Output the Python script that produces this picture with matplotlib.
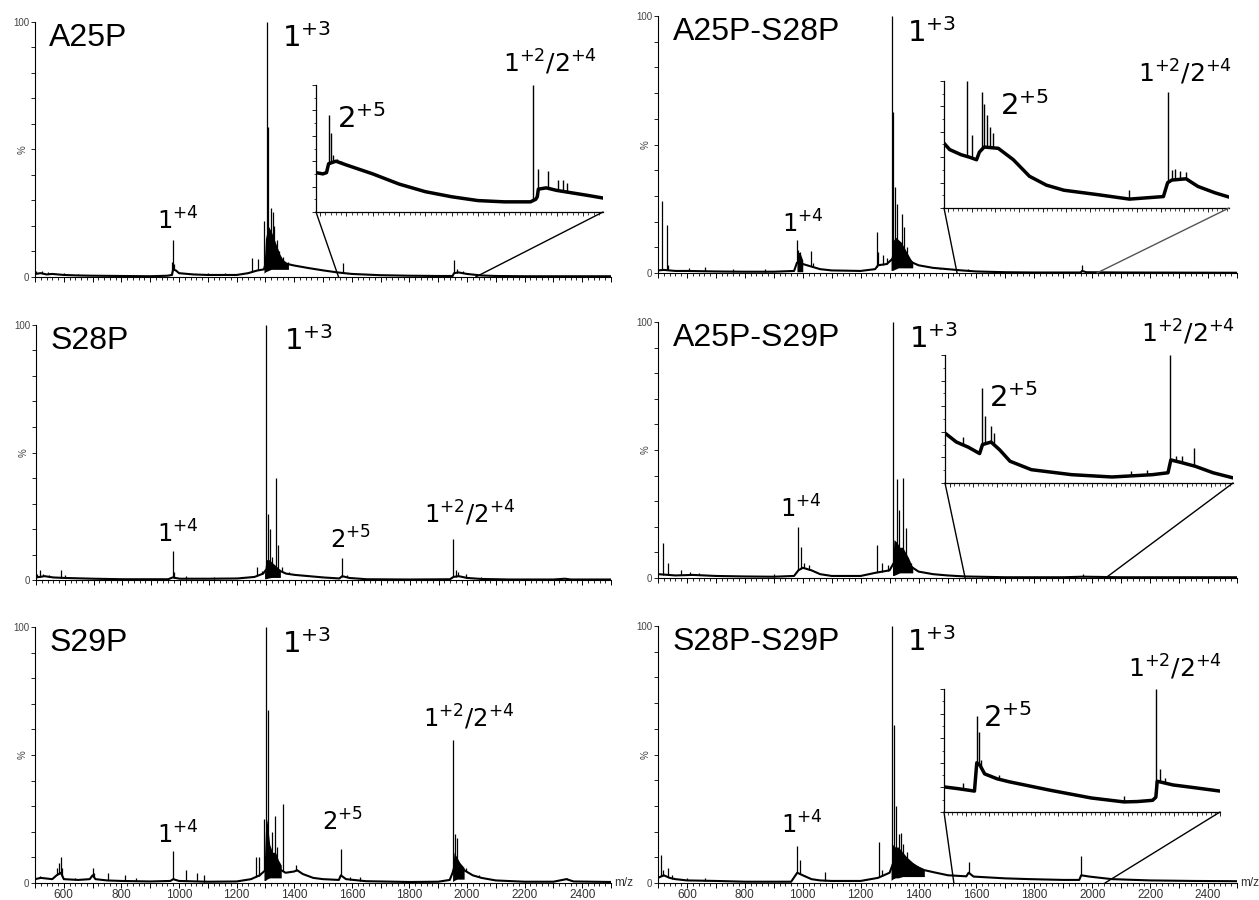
import numpy as np
import matplotlib
matplotlib.use("Agg")
import matplotlib.pyplot as plt
from matplotlib.patches import ConnectionPatch
from matplotlib.ticker import MultipleLocator, FixedLocator, FuncFormatter

# ---------------------------------------------------------------- data
# m/z axis tick labels
XTICK_LABELS = [600, 800, 1000, 1200, 1400, 1600, 1800, 2000, 2200, 2400]

# ---- A25P
a25p_base_mz = [500, 520, 540, 560, 600, 650, 700, 800, 900, 960, 975, 980, 990, 1000, 1050, 1100, 1200, 1240, 1270,
                1295, 1300, 1350, 1380, 1400, 1450, 1500, 1550, 1600, 1700, 1800, 1900, 1950, 1955, 1970, 2000, 2050,
                2100, 2200, 2300, 2400, 2500]
a25p_base_y = [1.2, 1.5, 1.0, 1.2, 0.8, 0.6, 0.5, 0.4, 0.3, 0.5, 0.8, 3.0, 2.5, 1.5, 1.0, 0.8, 0.8, 1.5, 2.5,
               3.0, 5.0, 6.0, 5.0, 4.5, 3.5, 2.6, 1.8, 1.2, 0.7, 0.5, 0.4, 0.4, 1.5, 1.8, 1.2, 0.6,
               0.4, 0.3, 0.3, 0.3, 0.3]
a25p_peak_mz = [505, 525, 545, 600, 650, 975, 979, 984, 1100, 1160, 1253, 1275, 1296, 1305, 1310, 1318, 1325, 1330,
                1340, 1346, 1360, 1380, 1570, 1955, 1965, 1985]
a25p_peak_y = [2.5, 2.2, 2.0, 1.5, 1.2, 6, 14.5, 5, 1.5, 1.5, 7.5, 7, 22, 100, 59, 27, 25.5, 20,
               14.5, 10, 8, 6, 5.5, 6.7, 3, 2.5]
a25p_fill_mz = [1295, 1300, 1310, 1320, 1330, 1340, 1350, 1360, 1370, 1380]
a25p_fill_lo = [1.5, 2, 2.5, 3, 3, 3, 3, 3, 3, 3]
a25p_fill_hi = [3, 15, 20, 18, 15, 12, 9, 7, 6, 5]
a25p_in_base_mz = [1542, 1555, 1562, 1566, 1580, 1600, 1650, 1700, 1750, 1800, 1850, 1900, 1950, 1960, 1963, 1965,
                   1980, 2000, 2030, 2060, 2088]
a25p_in_base_y = [31, 30, 31, 38, 40, 37, 30, 22, 16, 12, 9, 8, 8, 10, 12, 18, 19, 17, 15, 13, 11]
a25p_in_peak_mz = [1566, 1570, 1575, 1582, 1590, 1955, 1965, 1984, 2003, 2012, 2020]
a25p_in_peak_y = [76, 62, 45, 42, 40, 100, 34, 32, 25, 25, 23]

# ---- S28P
s28p_base_mz = [500, 530, 560, 600, 700, 800, 960, 975, 985, 1000, 1100, 1200, 1260, 1290, 1300, 1340, 1370, 1400,
                1450, 1500, 1555, 1565, 1590, 1650, 1800, 1940, 1952, 1970, 2000, 2050, 2150, 2300, 2340, 2360, 2500]
s28p_base_y = [1.0, 1.5, 1.0, 0.8, 0.5, 0.3, 0.3, 1.0, 0.8, 0.5, 0.5, 0.6, 1.2, 2.5, 4.0, 4.0, 2.5, 2.0,
               1.5, 1.0, 0.6, 1.5, 0.8, 0.3, 0.2, 0.3, 1.2, 1.5, 0.8, 0.4, 0.2, 0.2, 0.5, 0.2, 0.2]
s28p_peak_mz = [505, 513, 525, 545, 586, 600, 975, 980, 1020, 1120, 1267, 1286, 1301, 1307, 1314, 1321, 1336, 1343,
                1355, 1380, 1563, 1582, 1952, 1960, 1969, 1997, 2047]
s28p_peak_y = [2.5, 4, 2.5, 2, 4, 1.8, 11.5, 3, 1.5, 1, 5, 3.5, 100, 26, 20, 9, 40, 13.7,
               5, 3, 8.5, 2, 16, 4, 3, 2.5, 1]
s28p_fill_mz = [1295, 1300, 1310, 1320, 1330, 1340, 1350]
s28p_fill_lo = [0.5, 0.5, 0.8, 1.0, 1.0, 1.0, 1.0]
s28p_fill_hi = [3, 8, 8, 7, 6, 5, 4]

# ---- S29P
s29p_base_mz = [500, 520, 560, 575, 590, 600, 650, 690, 700, 710, 750, 800, 900, 970, 980, 1000, 1100, 1200, 1250,
                1280, 1300, 1320, 1340, 1370, 1400, 1410, 1430, 1466, 1500, 1555, 1562, 1580, 1650, 1800, 1900, 1940,
                1950, 1960, 1990, 2020, 2050, 2100, 2200, 2300, 2345, 2370, 2500]
s29p_base_y = [1.5, 2.0, 1.5, 3.0, 4.0, 1.5, 1.2, 1.5, 3.0, 1.5, 1.0, 0.8, 0.6, 0.8, 1.5, 0.8, 0.5, 0.6, 1.5,
               3.0, 5.0, 8.0, 6.0, 4.0, 4.5, 5.0, 3.5, 2.0, 1.5, 1.2, 3.0, 1.5, 0.7, 0.4, 0.5, 1.2,
               4.0, 8.0, 5.0, 3.0, 2.0, 1.0, 0.5, 0.5, 1.5, 0.6, 0.4]
s29p_peak_mz = [517, 530, 575, 583, 590, 595, 640, 700, 705, 753, 813, 850, 979, 1024, 1062, 1087, 1266, 1278, 1296,
                1302, 1310, 1322, 1333, 1340, 1362, 1406, 1561, 1594, 1628, 1950, 1958, 1966, 1996, 2042, 2346]
s29p_peak_y = [2.7, 2, 6, 8, 10, 6, 2, 6, 4, 4, 3, 2, 12.5, 5, 4, 3, 10, 10, 25,
               100, 67.5, 20, 26, 14, 31, 7, 13.4, 2.5, 2.5, 56, 19, 17.7, 6, 3, 2]
s29p_fill_mz = [1295, 1300, 1305, 1315, 1325, 1335, 1345, 1355]
s29p_fill_lo = [1, 1, 1.5, 2, 2, 2, 2, 2]
s29p_fill_hi = [4, 20, 25, 15, 12, 12, 9, 7]
s29p_fill2_mz = [1950, 1955, 1965, 1975, 1990]
s29p_fill2_lo = [0.5, 1, 1.5, 1.5, 1.5]
s29p_fill2_hi = [5, 12, 10, 8, 6]

# ---- A25P-S28P
a25s28_base_mz = [500, 520, 560, 600, 700, 800, 900, 970, 980, 1000, 1030, 1060, 1100, 1200, 1250, 1260, 1290, 1305,
                  1330, 1360, 1380, 1400, 1450, 1500, 1550, 1600, 1700, 1800, 1960, 1965, 1980, 2100, 2500]
a25s28_base_y = [1.0, 1.2, 0.8, 0.8, 0.6, 0.5, 0.5, 0.8, 4.0, 3.5, 2.5, 1.5, 1.0, 0.8, 1.5, 3.0, 3.5, 5.0,
                 8.0, 6.0, 4.0, 3.0, 2.0, 1.5, 1.0, 0.6, 0.3, 0.2, 0.2, 0.8, 0.3, 0.2, 0.1]
a25s28_peak_mz = [514, 531, 535, 607, 662, 760, 870, 980, 985, 990, 1028, 1035, 1256, 1260, 1277, 1291, 1308, 1312,
                  1318, 1325, 1342, 1350, 1360, 1474, 1571, 1965]
a25s28_peak_y = [28, 18.7, 3, 2, 2.5, 1.5, 1.5, 12.8, 9, 8, 8.5, 4, 16, 8, 7, 6, 100, 62.6,
                 33.5, 27, 23, 18, 10, 1.5, 1.5, 3]
a25s28_fill_mz = [1305, 1310, 1320, 1330, 1340, 1350, 1360, 1370, 1380]
a25s28_fill_lo = [1, 1, 1.5, 2, 2, 2, 2, 2, 2]
a25s28_fill_hi = [5, 12, 14, 13, 12, 10, 8, 6, 4]
a25s28_fill2_mz = [980, 990, 1000]
a25s28_fill2_lo = [0.5, 0.5, 0.5]
a25s28_fill2_hi = [8, 8, 5]
a25s28_in_base_mz = [1491, 1503, 1527, 1545, 1560, 1566, 1576, 1606, 1638, 1672, 1708, 1745, 1817, 1884, 1956, 1965,
                     1974, 2004, 2029, 2065, 2095]
a25s28_in_base_y = [51, 46, 42, 40, 38, 44, 48, 47, 38, 25, 18, 14, 10.5, 7, 9, 20, 22, 23, 17, 12, 8.6]
a25s28_in_peak_mz = [1539, 1550, 1571, 1576, 1582, 1588, 1594, 1884, 1965, 1974, 1980, 1992, 2004]
a25s28_in_peak_y = [100, 57.6, 91, 82, 73, 64, 59, 14, 91, 30, 31, 29, 28]

# ---- A25P-S29P
a25s29_base_mz = [500, 560, 620, 700, 800, 900, 970, 985, 1000, 1030, 1060, 1100, 1200, 1250, 1300, 1315, 1350, 1380,
                  1400, 1450, 1500, 1560, 1700, 1900, 1969, 2100, 2500]
a25s29_base_y = [1.5, 1.0, 1.2, 0.8, 0.6, 0.5, 0.8, 3.0, 4.0, 3.0, 1.5, 0.8, 0.8, 2.0, 3.0, 6.0, 7.0, 4.0,
                 2.5, 1.5, 1.0, 0.6, 0.3, 0.3, 0.5, 0.3, 0.3]
a25s29_peak_mz = [518, 535, 581, 610, 640, 900, 985, 995, 1006, 1023, 1258, 1275, 1296, 1313, 1325, 1332, 1346, 1357,
                  1374, 1969]
a25s29_peak_y = [13.6, 5.8, 3, 2.5, 2, 1.5, 19.9, 12.3, 6, 5, 13, 6, 5, 100, 38.6, 26.6, 39, 19.5,
                 6, 1.5]
a25s29_fill_mz = [1310, 1315, 1325, 1335, 1345, 1355, 1365, 1380]
a25s29_fill_lo = [1, 1, 1.5, 2, 2, 2, 2, 2]
a25s29_fill_hi = [4, 15, 14, 12, 12, 10, 8, 4]
a25s29_in_base_mz = [1490, 1514, 1539, 1563, 1569, 1587, 1605, 1627, 1672, 1757, 1842, 1927, 1960, 1966, 1988, 2018,
                     2055, 2097]
a25s29_in_base_y = [39, 32, 28, 23, 30, 32, 26, 17, 10.4, 6.5, 4.7, 6.5, 8, 18, 16, 13, 8, 4]
a25s29_in_peak_mz = [1527, 1568, 1574, 1587, 1593, 1881, 1915, 1965, 1976, 1989, 2015, 2067]
a25s29_in_peak_y = [36, 74, 52, 44.7, 39, 9, 10, 100, 21, 21, 27, 8]

# ---- S28P-S29P
s28s29_base_mz = [500, 520, 540, 560, 600, 700, 800, 960, 981, 1000, 1030, 1060, 1100, 1200, 1260, 1300, 1320, 1350,
                  1380, 1420, 1460, 1502, 1565, 1573, 1590, 1700, 1785, 1900, 1955, 1962, 1990, 2068, 2200, 2350, 2500]
s28s29_base_y = [2.0, 3.0, 2.0, 1.5, 1.0, 0.8, 0.5, 0.5, 4.0, 3.0, 1.5, 1.0, 0.8, 0.8, 2.0, 4.0, 10.0, 9.0,
                 7.0, 5.0, 4.0, 3.0, 2.6, 4.0, 2.5, 1.8, 1.5, 1.2, 1.2, 3.0, 2.5, 1.5, 1.0, 0.8, 0.7]
s28s29_peak_mz = [511, 518, 536, 550, 600, 663, 981, 989, 1006, 1077, 1264, 1275, 1303, 1309, 1315, 1322, 1332, 1340,
                  1346, 1360, 1573, 1962]
s28s29_peak_y = [11, 5, 6, 3, 2, 2, 14.4, 8.8, 3, 4.3, 16, 5, 5, 100, 61.4, 30, 19, 19.5,
                 15, 12, 8, 10.4]
s28s29_fill_mz = [1305, 1310, 1320, 1330, 1345, 1360, 1380, 1400, 1420]
s28s29_fill_lo = [1, 1.5, 2, 2, 2.5, 2.5, 2.5, 2.5, 2.5]
s28s29_fill_hi = [5, 15, 14, 14, 12, 10, 8, 6.5, 5]
s28s29_in_base_mz = [1502, 1532, 1568, 1573, 1580, 1590, 1617, 1644, 1732, 1821, 1892, 1921, 1954, 1961, 1964, 1998,
                     2040, 2100]
s28s29_in_base_y = [20.4, 19, 17, 40, 38, 31, 27, 24.5, 17.7, 11.4, 8.2, 8.5, 9.5, 12, 25, 22, 20, 17]
s28s29_in_peak_mz = [1544, 1573, 1577, 1582, 1622, 1892, 1962, 1970, 1980]
s28s29_in_peak_y = [23.7, 78, 65, 42, 30, 12.8, 100, 35, 28]

# inset m/z windows and zoom connector targets on the main axis
a25p_in_range = [1542, 2088]
a25s28_in_range = [1491, 2095]
a25s29_in_range = [1490, 2097]
s28s29_in_range = [1502, 2100]
a25p_conn = [1554, 2030]
a25s28_conn = [1533, 2016]
a25s29_conn = [1561, 2046]
s28s29_conn = [1522, 2044]

# ---------------------------------------------------------------- layout
W, H = 1259, 900
fig = plt.figure(figsize=(W / 100, H / 100), dpi=100)
fig.patch.set_facecolor("white")

SANS = ["Liberation Sans", "DejaVu Sans"]


def px_axes(l, t, r, b):
    return fig.add_axes([l / W, 1 - b / H, (r - l) / W, (b - t) / H])


def draw_trace(ax, bmz, by, pmz, py, fills=(), lw=1.5, plw=0.9):
    ax.plot(bmz, by, color="k", lw=lw, solid_joinstyle="round", solid_capstyle="round")
    bottoms = np.interp(pmz, bmz, by)
    ax.vlines(pmz, bottoms, py, color="k", lw=plw)
    for fm, flo, fhi in fills:
        ax.fill_between(fm, flo, fhi, color="k", lw=0)


def xfmt(v, pos):
    iv = int(round(v))
    return str(iv) if iv in XTICK_LABELS else ""


def style_main(ax, bottom_row):
    ax.set_xlim(500, 2500)
    ax.set_ylim(0, 100)
    for s in ["top", "right"]:
        ax.spines[s].set_visible(False)
    for s in ["left", "bottom"]:
        ax.spines[s].set_linewidth(0.8)
    ax.xaxis.set_major_locator(FixedLocator(list(range(500, 2501, 100))))
    ax.xaxis.set_minor_locator(FixedLocator(list(range(500, 2501, 20))))
    ax.yaxis.set_major_locator(FixedLocator(list(range(0, 101, 10))))
    ax.tick_params(axis="x", which="major", length=3.5, width=0.7, direction="out")
    ax.tick_params(axis="x", which="minor", length=2.0, width=0.6, direction="out")
    ax.tick_params(axis="y", which="major", length=3, width=0.6, direction="out",
                   labelsize=7, labelcolor="#444444", pad=1)
    ax.yaxis.set_major_formatter(FuncFormatter(lambda v, p: "0" if v == 0 else ("100" if v == 100 else "")))
    if bottom_row:
        ax.xaxis.set_major_formatter(FuncFormatter(xfmt))
        ax.tick_params(axis="x", labelsize=8.5, labelcolor="#333333", pad=0.5)
        for lab in ax.get_xticklabels():
            lab.set_family(SANS)
        ax.text(1.006, 0.0, "m/z", transform=ax.transAxes, fontsize=8.5, color="#333333",
                family=SANS, ha="left", va="center")
    else:
        ax.xaxis.set_major_formatter(FuncFormatter(lambda v, p: ""))
    for lab in ax.get_yticklabels():
        lab.set_family(SANS)
    ax.text(-0.021, 0.5, "%", transform=ax.transAxes, rotation=90, fontsize=7,
            color="#444444", ha="center", va="center", family=SANS)
    ax.patch.set_alpha(0)


def style_inset(ax, xr):
    ax.set_xlim(*xr)
    ax.set_ylim(0, 100)
    for s in ["top", "right"]:
        ax.spines[s].set_visible(False)
    for s in ["left", "bottom"]:
        ax.spines[s].set_linewidth(0.9)
    ax.xaxis.set_major_locator(MultipleLocator(50))
    ax.xaxis.set_minor_locator(MultipleLocator(10))
    ax.yaxis.set_major_locator(FixedLocator([0, 20, 40, 60, 80, 100]))
    ax.yaxis.set_minor_locator(MultipleLocator(10))
    ax.tick_params(which="major", length=3, width=0.6, direction="out", labelbottom=False, labelleft=False)
    ax.tick_params(which="minor", length=1.8, width=0.5, direction="out")
    ax.patch.set_alpha(0)


def title(ax, txt):
    ax.text(0.025, 0.905, txt, transform=ax.transAxes, fontsize=23, family=SANS,
            ha="left", va="baseline")


def ann(ax, x, y, txt, size=17.5, trans=None):
    kw = dict(fontsize=size, ha="left", va="baseline", family="DejaVu Sans", clip_on=False)
    if trans is not None:
        kw["transform"] = trans
    ax.text(x, y, txt, **kw)


def connect(main, inset, conn, color_r="k"):
    for (xa, xb), col in zip([(0, conn[0]), (1, conn[1])], ["k", color_r]):
        cp = ConnectionPatch(xyA=(xa, 0), coordsA=inset.transAxes, xyB=(xb, 0), coordsB=main.transData,
                             color=col, lw=1.0)
        fig.add_artist(cp)


# ---------------------------------------------------------------- panels
# A25P (top left)
ax = px_axes(35, 22, 611, 277)
style_main(ax, False)
draw_trace(ax, a25p_base_mz, a25p_base_y, a25p_peak_mz, a25p_peak_y,
           [(a25p_fill_mz, a25p_fill_lo, a25p_fill_hi)])
title(ax, "A25P")
ann(ax, 1357, 90, r"$1^{+3}$", 21)
ann(ax, 923, 18.4, r"$1^{+4}$")
ins = px_axes(316, 85, 603, 212)
style_inset(ins, a25p_in_range)
draw_trace(ins, a25p_in_base_mz, a25p_in_base_y, a25p_in_peak_mz, a25p_in_peak_y, lw=2.5, plw=1.0)
ann(ins, 0.073, 0.66, r"$2^{+5}$", 21, ins.transAxes)
ann(ins, 0.652, 1.10, r"$1^{+2}/2^{+4}$", 18, ins.transAxes)
connect(ax, ins, a25p_conn)

# S28P (middle left)
ax = px_axes(36, 325, 611, 580)
style_main(ax, False)
draw_trace(ax, s28p_base_mz, s28p_base_y, s28p_peak_mz, s28p_peak_y,
           [(s28p_fill_mz, s28p_fill_lo, s28p_fill_hi)])
title(ax, "S28P")
ann(ax, 1361, 90, r"$1^{+3}$", 21)
ann(ax, 920, 14.6, r"$1^{+4}$")
ann(ax, 1522, 12.4, r"$2^{+5}$")
ann(ax, 1848, 22.5, r"$1^{+2}/2^{+4}$")

# S29P (bottom left)
ax = px_axes(35, 627, 611, 883)
style_main(ax, True)
draw_trace(ax, s29p_base_mz, s29p_base_y, s29p_peak_mz, s29p_peak_y,
           [(s29p_fill_mz, s29p_fill_lo, s29p_fill_hi), (s29p_fill2_mz, s29p_fill2_lo, s29p_fill2_hi)])
title(ax, "S29P")
ann(ax, 1357, 90, r"$1^{+3}$", 21)
ann(ax, 923, 15.4, r"$1^{+4}$")
ann(ax, 1496, 20.6, r"$2^{+5}$")
ann(ax, 1848, 61, r"$1^{+2}/2^{+4}$")

# A25P-S28P (top right)
ax = px_axes(658, 16, 1237, 273)
style_main(ax, False)
draw_trace(ax, a25s28_base_mz, a25s28_base_y, a25s28_peak_mz, a25s28_peak_y,
           [(a25s28_fill_mz, a25s28_fill_lo, a25s28_fill_hi), (a25s28_fill2_mz, a25s28_fill2_lo, a25s28_fill2_hi)])
title(ax, "A25P-S28P")
ann(ax, 1360, 90, r"$1^{+3}$", 21)
ann(ax, 928, 15.6, r"$1^{+4}$")
ins = px_axes(944, 81, 1229, 208)
style_inset(ins, a25s28_in_range)
draw_trace(ins, a25s28_in_base_mz, a25s28_in_base_y, a25s28_in_peak_mz, a25s28_in_peak_y, lw=2.5, plw=1.0)
ann(ins, 0.196, 0.73, r"$2^{+5}$", 21, ins.transAxes)
ann(ins, 0.68, 0.995, r"$1^{+2}/2^{+4}$", 18, ins.transAxes)
connect(ax, ins, a25s28_conn, color_r="#555555")

# A25P-S29P (middle right)
ax = px_axes(658, 322, 1237, 578)
style_main(ax, False)
draw_trace(ax, a25s29_base_mz, a25s29_base_y, a25s29_peak_mz, a25s29_peak_y,
           [(a25s29_fill_mz, a25s29_fill_lo, a25s29_fill_hi)])
title(ax, "A25P-S29P")
ann(ax, 1367, 90, r"$1^{+3}$", 21)
ann(ax, 921, 23.4, r"$1^{+4}$")
ins = px_axes(945, 355, 1233, 483)
style_inset(ins, a25s29_in_range)
draw_trace(ins, a25s29_in_base_mz, a25s29_in_base_y, a25s29_in_peak_mz, a25s29_in_peak_y, lw=2.5, plw=1.0)
ann(ins, 0.154, 0.597, r"$2^{+5}$", 21, ins.transAxes)
ann(ins, 0.68, 1.10, r"$1^{+2}/2^{+4}$", 18, ins.transAxes)
connect(ax, ins, a25s29_conn)

# S28P-S29P (bottom right)
ax = px_axes(658, 626, 1237, 883)
style_main(ax, True)
draw_trace(ax, s28s29_base_mz, s28s29_base_y, s28s29_peak_mz, s28s29_peak_y,
           [(s28s29_fill_mz, s28s29_fill_lo, s28s29_fill_hi)])
title(ax, "S28P-S29P")
ann(ax, 1360, 90.4, r"$1^{+3}$", 21)
ann(ax, 925, 19.2, r"$1^{+4}$")
ins = px_axes(944, 689, 1220, 812)
style_inset(ins, s28s29_in_range)
draw_trace(ins, s28s29_in_base_mz, s28s29_in_base_y, s28s29_in_peak_mz, s28s29_in_peak_y, lw=2.5, plw=1.0)
ann(ins, 0.14, 0.695, r"$2^{+5}$", 21, ins.transAxes)
ann(ins, 0.667, 1.10, r"$1^{+2}/2^{+4}$", 18, ins.transAxes)
connect(ax, ins, s28s29_conn)

fig.savefig("out.png", dpi=100)
